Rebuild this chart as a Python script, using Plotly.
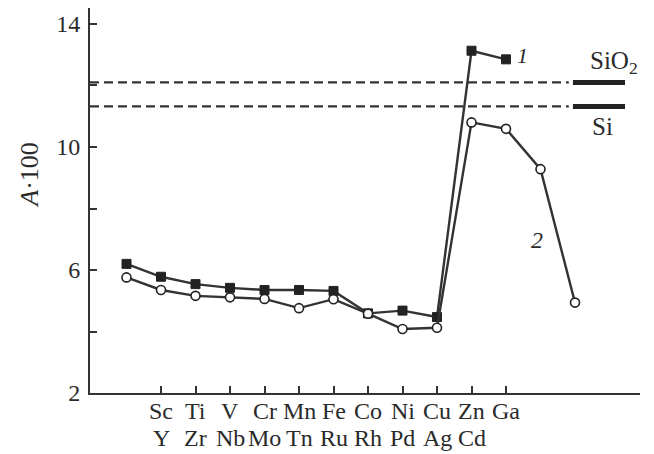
import plotly.graph_objects as go

# Data
pos1 = list(range(12))
series1 = [6.20, 5.78, 5.54, 5.42, 5.35, 5.35, 5.32, 4.59, 4.68, 4.47, 13.13, 12.85]
pos2 = list(range(14))
series2 = [5.76, 5.35, 5.16, 5.11, 5.06, 4.76, 5.05, 4.58, 4.08, 4.12, 10.80, 10.59, 9.28, 4.94]
tick_pos = list(range(1, 12))
row1 = ["Sc", "Ti", "V", "Cr", "Mn", "Fe", "Co", "Ni", "Cu", "Zn", "Ga"]
row2 = ["Y", "Zr", "Nb", "Mo", "Tn", "Ru", "Rh", "Pd", "Ag", "Cd", ""]
ref_names = ["SiO<sub>2</sub>", "Si"]
ref_values = [12.1, 11.32]
ytick_vals = [2, 6, 10, 14]
ytick_text = ["2", "6", "10", "14"]
yminor_vals = [4, 8, 12]

FONT = "Liberation Serif"
LC = "#333333"
TC = "#2a2a2a"

fig = go.Figure()
fig.add_trace(go.Scatter(x=pos1, y=series1, mode="lines+markers",
                         line=dict(color=LC, width=2.4),
                         marker=dict(symbol="square", size=9, color="#222222",
                                     line=dict(color="#222222", width=1)),
                         showlegend=False))
fig.add_trace(go.Scatter(x=pos2, y=series2, mode="lines+markers",
                         line=dict(color=LC, width=2.4),
                         marker=dict(symbol="circle", size=9, color="white",
                                     line=dict(color="#222222", width=1.6)),
                         showlegend=False))

xmin, xmax = -1.058, 14.884
for v in ref_values:
    fig.add_shape(type="line", xref="x", yref="y", x0=xmin, x1=12.82, y0=v, y1=v,
                  line=dict(color=LC, width=2.4, dash="9px,5px"))
    fig.add_shape(type="line", xref="x", yref="y", x0=12.94, x1=14.45, y0=v, y1=v,
                  line=dict(color="#222222", width=5))

fig.add_annotation(x=14.12, y=12.74, text=ref_names[0], showarrow=False,
                   xanchor="center", yanchor="middle", font=dict(family=FONT, size=25, color=TC))
fig.add_annotation(x=13.79, y=10.68, text=ref_names[1], showarrow=False,
                   xanchor="center", yanchor="middle", font=dict(family=FONT, size=25, color=TC))
fig.add_annotation(x=11.49, y=12.99, text="<i>1</i>", showarrow=False,
                   xanchor="center", yanchor="middle", font=dict(family=FONT, size=22, color=TC))
fig.add_annotation(x=11.91, y=6.98, text="<i>2</i>", showarrow=False,
                   xanchor="center", yanchor="middle", font=dict(family=FONT, size=24, color=TC))

# element labels: two tight rows
for xv, a, b in zip(tick_pos, row1, row2):
    fig.add_annotation(x=xv, xref="x", y=-0.047, yref="paper", text=a, showarrow=False,
                       xanchor="center", yanchor="middle",
                       font=dict(family=FONT, size=24, color=TC))
    if b:
        fig.add_annotation(x=xv, xref="x", y=-0.117, yref="paper", text=b, showarrow=False,
                           xanchor="center", yanchor="middle",
                           font=dict(family=FONT, size=24, color=TC))

# y-axis title
fig.add_annotation(x=-0.109, xref="paper", y=0.567, yref="paper", text="<i>A</i>·100",
                   textangle=-90, showarrow=False, xanchor="center", yanchor="middle",
                   font=dict(family=FONT, size=26, color=TC))

fig.update_layout(
    width=646, height=446,
    margin=dict(l=82, r=14, t=0, b=61, autoexpand=False),
    paper_bgcolor="white", plot_bgcolor="white",
    font=dict(family=FONT, size=20, color=TC),
    xaxis=dict(range=[xmin, xmax], showgrid=False, zeroline=False, automargin=False,
               showline=True, linecolor=LC, linewidth=2,
               tickmode="array", tickvals=tick_pos, showticklabels=False,
               ticks="inside", ticklen=7, tickwidth=2, tickcolor=LC),
    yaxis=dict(range=[2, 14.52], showgrid=False, zeroline=False, automargin=False,
               showline=True, linecolor=LC, linewidth=2,
               tickmode="array", tickvals=ytick_vals, ticktext=ytick_text,
               ticks="inside", ticklen=7, tickwidth=2, tickcolor=LC,
               minor=dict(tickmode="array", tickvals=yminor_vals, ticks="inside",
                          ticklen=7, tickwidth=2, tickcolor=LC, showgrid=False),
               ticklabelstandoff=3,
               tickfont=dict(family=FONT, size=24, color=TC)),
)

fig.write_html("out.html")
